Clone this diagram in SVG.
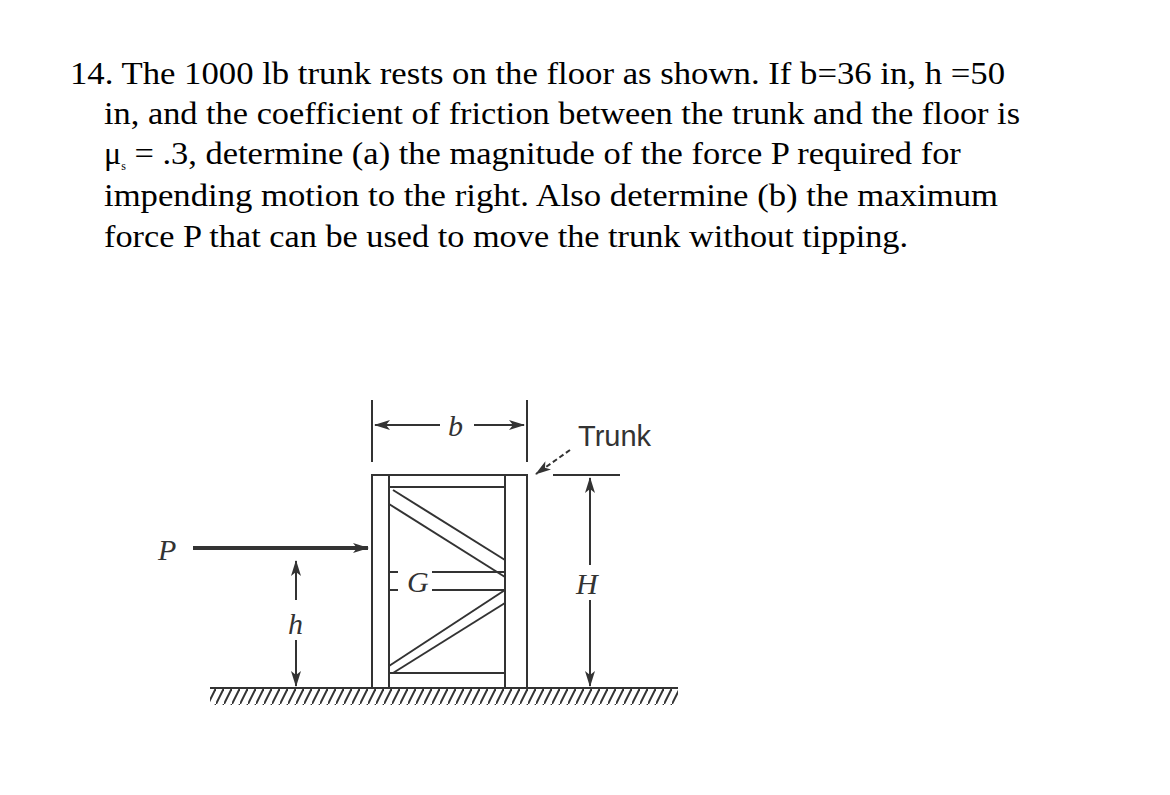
<svg xmlns="http://www.w3.org/2000/svg" width="1170" height="795" viewBox="0 0 1170 795">
<defs>
<marker id="ar" markerWidth="16" markerHeight="10" refX="15" refY="5" orient="auto" markerUnits="userSpaceOnUse"><path d="M0,0 L16,5 L0,10 L4,5 Z" fill="#333"/></marker>
<pattern id="hatch" width="8" height="16" patternUnits="userSpaceOnUse"><path d="M8,0 L0,16" stroke="#333" stroke-width="2"/></pattern>
</defs>
<style>
.t{font-family:"Liberation Serif",serif;font-size:32px;fill:#000}
.l{font-family:"Liberation Serif",serif;font-style:italic;font-size:30px;fill:#333}
.s{fill:none;stroke:#333;stroke-width:2}
</style>
<rect width="1170" height="795" fill="#fff"/>
<g id="problem">
<text class="t" x="70" y="84" textLength="935" lengthAdjust="spacingAndGlyphs">14. The 1000 lb trunk rests on the floor as shown.  If b=36 in, h =50</text>
<text class="t" x="104" y="124" textLength="916" lengthAdjust="spacingAndGlyphs">in, and the coefficient of friction between the trunk and the floor is</text>
<text class="t" x="104" y="164">μ<tspan font-size="12" dy="6">s</tspan><tspan dy="-6" textLength="835" lengthAdjust="spacingAndGlyphs"> = .3, determine (a) the magnitude of the force P required for</tspan></text>
<text class="t" x="104" y="206" textLength="894" lengthAdjust="spacingAndGlyphs">impending motion to the right.  Also determine (b) the maximum</text>
<text class="t" x="104" y="247" textLength="804" lengthAdjust="spacingAndGlyphs">force P that can be used to move the trunk without tipping.</text>
</g>
<g id="ground">
<rect x="210" y="689" width="468" height="16" fill="url(#hatch)"/>
<line class="s" x1="210" y1="688" x2="678" y2="688" stroke-width="3"/>
</g>
<g id="trunk" class="s">
<rect x="372" y="475" width="155" height="213"/>
<line x1="389" y1="475" x2="389" y2="688"/>
<line x1="505" y1="475" x2="505" y2="688"/>
<line x1="389" y1="487" x2="505" y2="487"/>
<line x1="389" y1="673" x2="505" y2="673"/>
<line x1="393" y1="490" x2="505" y2="560"/>
<line x1="389" y1="504" x2="505" y2="577"/>
<line x1="389" y1="572" x2="398" y2="572"/><line x1="432" y1="572" x2="505" y2="572"/>
<line x1="389" y1="590" x2="398" y2="590"/><line x1="432" y1="590" x2="505" y2="590"/>
<line x1="505" y1="590" x2="389" y2="666"/>
<line x1="505" y1="603" x2="393" y2="673"/>
</g>
<g id="connectors" class="s">
<line x1="372" y1="400" x2="372" y2="462"/>
<line x1="527" y1="400" x2="527" y2="462"/>
<line x1="440" y1="425" x2="375" y2="425" marker-end="url(#ar)"/>
<line x1="474" y1="425" x2="524" y2="425" marker-end="url(#ar)"/>
<line x1="193" y1="548" x2="368" y2="548" stroke-width="4" marker-end="url(#ar)"/>
<line x1="296" y1="600" x2="296" y2="561" marker-end="url(#ar)"/>
<line x1="296" y1="640" x2="296" y2="686" marker-end="url(#ar)"/>
<line x1="553" y1="475" x2="620" y2="475"/>
<line x1="590" y1="565" x2="590" y2="478" marker-end="url(#ar)"/>
<line x1="590" y1="600" x2="590" y2="686" marker-end="url(#ar)"/>
<line x1="570" y1="450" x2="536" y2="474" stroke-dasharray="5,3" marker-end="url(#ar)"/>
</g>
<g id="labels">
<text class="l" x="407" y="592" font-style="italic">G</text>
<text class="l" x="448" y="436" font-style="italic">b</text>
<text x="578" y="446" font-family="Liberation Sans, sans-serif" font-size="29" fill="#333">Trunk</text>
<text class="l" x="158" y="560" font-style="italic">P</text>
<text class="l" x="288" y="634" font-style="italic">h</text>
<text class="l" x="576" y="594" font-style="italic">H</text>
</g>
</svg>
